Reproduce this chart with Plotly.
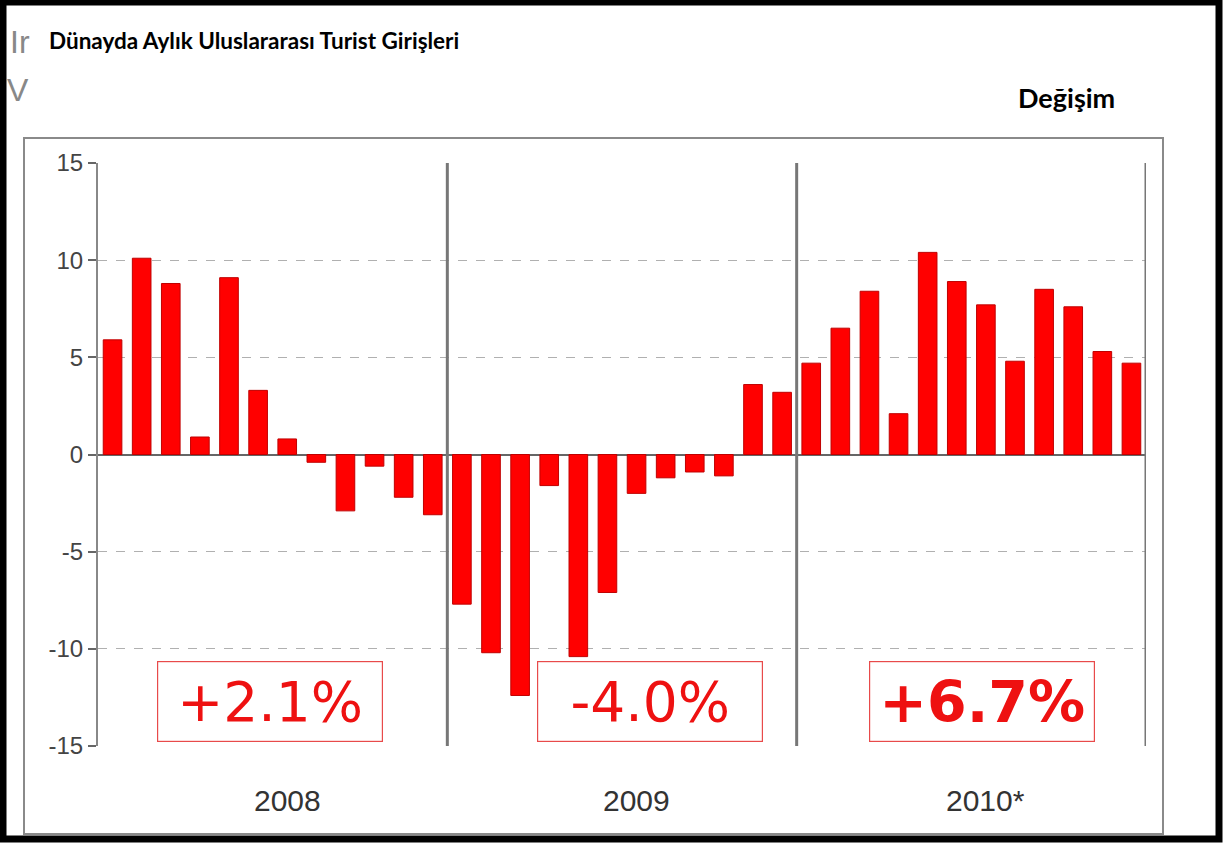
import plotly.graph_objects as go

# ---------------- data ----------------
years = ["2008", "2009", "2010*"]
months = ["Oca", "Şub", "Mar", "Nis", "May", "Haz", "Tem", "Ağu", "Eyl", "Eki", "Kas", "Ara"]
values_2008 = [5.9, 10.1, 8.8, 0.9, 9.1, 3.3, 0.8, -0.4, -2.9, -0.6, -2.2, -3.1]
values_2009 = [-7.7, -10.2, -12.4, -1.6, -10.4, -7.1, -2.0, -1.2, -0.9, -1.1, 3.6, 3.2]
values_2010 = [4.7, 6.5, 8.4, 2.1, 10.4, 8.9, 7.7, 4.8, 8.5, 7.6, 5.3, 4.7]
annual_change = ["+2.1%", "-4.0%", "+6.7%"]
y_ticks = [-15, -10, -5, 0, 5, 10, 15]
title_text = "Dünayda Aylık Uluslararası Turist Girişleri"
change_text = "Değişim"

# ---------------- geometry helpers (pixel -> paper) ----------------
W, H = 1223, 843
L, R, T, B = 98, 77, 163, 97
PW, PH = W - L - R, H - T - B


def px(x):
    return (x - L) / PW


def py(y):
    return (H - B - y) / PH


all_values = values_2008 + values_2009 + values_2010
n = len(all_values)
xpos = list(range(n))
hover = [f"{months[i % 12]} {years[i // 12]}" for i in range(n)]

fig = go.Figure()
fig.add_trace(go.Bar(
    x=xpos, y=all_values, width=0.64,
    marker=dict(color="#ff0000", line=dict(color="#c00000", width=1)),
    hovertext=hover, hoverinfo="text+y", showlegend=False,
))

shapes = []
# vertical year separators
for k in range(1, len(years) + 1):
    xs = 12 * k - 0.5
    shapes.append(dict(type="line", xref="x", yref="y", x0=xs, x1=xs, y0=-15, y1=15,
                       line=dict(color="#777777", width=3), layer="above"))
# inner gray frame
shapes.append(dict(type="rect", xref="paper", yref="paper", x0=px(24), x1=px(1163),
                   y0=py(834), y1=py(138), line=dict(color="#8a8a8a", width=2), layer="below"))
# outer black frame
shapes.append(dict(type="rect", xref="paper", yref="paper", x0=px(3), x1=px(1219),
                   y0=py(839), y1=py(2), line=dict(color="#000000", width=7), layer="above"))

annotations = []
# year labels
for k, yr in enumerate(years):
    annotations.append(dict(x=12 * k + 6.0, xref="x", y=py(800), yref="paper", text=yr,
                            showarrow=False, font=dict(family="Liberation Sans", size=30, color="#333333"),
                            xanchor="center", yanchor="middle"))
# annual change boxes
box_centers = [270, 649.5, 982]
for k, txt in enumerate(annual_change):
    bold = (k == 2)
    annotations.append(dict(x=px(box_centers[k]), xref="paper", y=py(701.5), yref="paper",
                            text=f"<b>{txt}</b>" if bold else txt,
                            showarrow=False, width=224, height=79, borderpad=0,
                            bordercolor="#e84a4a", borderwidth=1.2, bgcolor="#ffffff",
                            font=dict(family="DejaVu Sans", size=57 if bold else 55, color="#ee1111"),
                            xanchor="center", yanchor="middle", align="center", valign="middle"))
# titles
annotations.append(dict(x=px(47), xref="paper", y=py(41), yref="paper", text=f"<b>{title_text}</b>",
                        showarrow=False, xanchor="left", yanchor="middle",
                        font=dict(family="Lato", size=22.5, color="#000000")))
annotations.append(dict(x=px(1016), xref="paper", y=py(97), yref="paper", text=f"<b>{change_text}</b>",
                        showarrow=False, xanchor="left", yanchor="middle",
                        font=dict(family="Lato", size=27, color="#000000")))
# remnant glyphs of the original title at the left edge
annotations.append(dict(x=px(8), xref="paper", y=py(42), yref="paper", text="Ir",
                        showarrow=False, xanchor="left", yanchor="middle",
                        font=dict(family="Liberation Sans Narrow, Liberation Sans", size=32, color="#888888")))
annotations.append(dict(x=px(5), xref="paper", y=py(90), yref="paper", text="V",
                        showarrow=False, xanchor="left", yanchor="middle",
                        font=dict(family="Liberation Sans Narrow, Liberation Sans", size=32, color="#888888")))

fig.update_layout(
    width=W, height=H, autosize=False,
    margin=dict(l=L, r=R, t=T, b=B, pad=0),
    paper_bgcolor="#ffffff", plot_bgcolor="#ffffff",
    shapes=shapes, annotations=annotations,
    bargap=0.36,
    xaxis=dict(range=[-0.5, n - 0.5], showticklabels=False, showgrid=False, zeroline=False,
               showline=False, ticks="", fixedrange=True),
    yaxis=dict(range=[-15, 15], tickvals=y_ticks, ticktext=[str(v) for v in y_ticks],
               showgrid=True, gridcolor="#b0b0b0", gridwidth=1, griddash="dash",
               zeroline=True, zerolinecolor="#666666", zerolinewidth=2,
               showline=True, linecolor="#888888", linewidth=2,
               ticks="outside", ticklen=8, tickwidth=2, tickcolor="#666666",
               tickfont=dict(family="Liberation Sans", size=24, color="#444444"),
               fixedrange=True),
    font=dict(family="Liberation Sans"),
)

fig.write_html(
    "out.html",
    config={"displayModeBar": False},
    post_script="document.body.style.margin='0';document.body.style.overflow='hidden';",
)
